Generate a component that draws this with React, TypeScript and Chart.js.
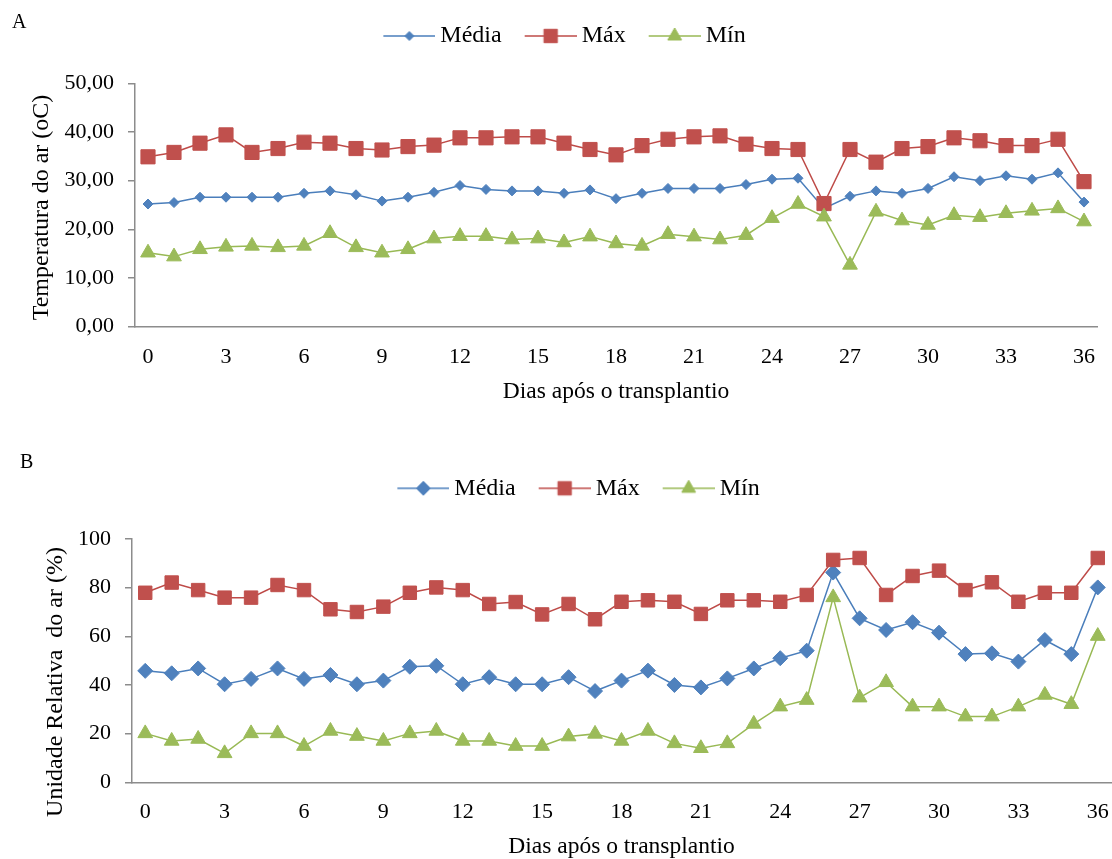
import React, { useEffect, useRef } from 'react';
import { Chart, registerables } from 'chart.js';

Chart.register(...registerables);

// ---------- data ----------
const days = ['0','1','2','3','4','5','6','7','8','9','10','11','12','13','14','15','16','17','18','19','20','21','22','23','24','25','26','27','28','29','30','31','32','33','34','35','36'];

const seriesNames = ['Média', 'Máx', 'Mín'];

const tempMedia = [25.2, 25.5, 26.6, 26.6, 26.6, 26.6, 27.4, 27.9, 27.1, 25.8, 26.6, 27.6, 29.0, 28.2, 27.9, 27.9, 27.4, 28.1, 26.3, 27.4, 28.4, 28.4, 28.4, 29.2, 30.3, 30.5, 24.3, 26.8, 27.9, 27.4, 28.4, 30.8, 30.0, 31.0, 30.3, 31.6, 25.6];
const tempMax = [34.9, 35.8, 37.7, 39.4, 35.8, 36.6, 37.9, 37.7, 36.6, 36.3, 37.0, 37.3, 38.8, 38.8, 39.0, 39.0, 37.7, 36.4, 35.3, 37.2, 38.5, 39.0, 39.2, 37.5, 36.6, 36.4, 25.3, 36.4, 33.8, 36.6, 37.0, 38.8, 38.2, 37.2, 37.2, 38.5, 29.8];
const tempMin = [15.2, 14.4, 15.9, 16.4, 16.6, 16.3, 16.6, 19.2, 16.3, 15.2, 15.9, 18.1, 18.6, 18.6, 17.9, 18.1, 17.3, 18.5, 17.1, 16.6, 19.0, 18.5, 17.9, 18.8, 22.3, 25.2, 22.6, 12.7, 23.6, 21.8, 20.9, 22.9, 22.5, 23.3, 23.8, 24.3, 21.6];

const urMedia = [45.8, 44.8, 46.8, 40.3, 42.5, 46.8, 42.5, 44.1, 40.3, 41.8, 47.5, 47.9, 40.3, 43.2, 40.3, 40.3, 43.2, 37.5, 41.8, 45.9, 40.0, 39.0, 42.7, 46.8, 51.0, 54.1, 86.2, 67.4, 62.6, 65.8, 61.5, 52.7, 53.0, 49.6, 58.5, 52.7, 80.1];
const urMax = [77.9, 82.1, 79.0, 75.9, 75.9, 81.1, 79.0, 71.1, 70.0, 72.2, 77.9, 80.1, 79.0, 73.3, 74.1, 69.0, 73.3, 67.0, 74.2, 74.8, 74.2, 69.2, 74.8, 74.8, 74.2, 77.0, 91.4, 92.2, 77.0, 84.8, 87.0, 79.0, 82.2, 74.2, 77.9, 77.9, 92.2];
const urMin = [20.1, 17.0, 17.8, 11.9, 20.1, 20.1, 14.9, 21.1, 19.0, 17.0, 20.1, 21.1, 17.0, 17.0, 14.9, 14.9, 18.8, 19.9, 17.0, 21.1, 16.0, 14.0, 16.0, 24.0, 31.1, 33.8, 76.0, 34.8, 41.1, 31.1, 31.1, 27.0, 27.0, 31.1, 35.9, 32.1, 60.1];

const tempTicks = [0, 10, 20, 30, 40, 50];
const urTicks = [0, 20, 40, 60, 80, 100];

const xTitle = 'Dias após o transplantio';
const tempTitle = 'Temperatura do ar (oC)';
const urTitle = 'Unidade Relativa  do ar (%)';

// ---------- styles ----------
const FONT = "'Liberation Serif', 'Times New Roman', serif";
const AXIS = '#8c8c8c';
const COLORS = [
  { line: '#4A7EBB', fill: '#4F81BD', style: 'rectRot' },
  { line: '#BE4B48', fill: '#C0504D', style: 'rect' },
  { line: '#98B954', fill: '#9BBB59', style: 'triangle' },
];

function drawMarker(ctx: CanvasRenderingContext2D, style: string, x: number, y: number, r: number) {
  ctx.beginPath();
  if (style === 'rect') {
    const s = Math.SQRT1_2 * r;
    ctx.rect(x - s, y - s, 2 * s, 2 * s);
  } else if (style === 'rectRot') {
    ctx.moveTo(x - r, y);
    ctx.lineTo(x, y - r);
    ctx.lineTo(x + r, y);
    ctx.lineTo(x, y + r);
    ctx.closePath();
  } else {
    ctx.moveTo(x, y - r);
    ctx.lineTo(x + 0.866 * r, y + 0.5 * r);
    ctx.lineTo(x - 0.866 * r, y + 0.5 * r);
    ctx.closePath();
  }
  ctx.fill();
  ctx.stroke();
}

function legendImage(idx: number, r: number) {
  const c = document.createElement('canvas');
  c.width = 58;
  c.height = 24;
  const ctx = c.getContext('2d')!;
  const col = COLORS[idx];
  ctx.strokeStyle = col.line;
  ctx.lineWidth = 1.5;
  ctx.beginPath();
  ctx.moveTo(6, 12);
  ctx.lineTo(58, 12);
  ctx.stroke();
  ctx.fillStyle = col.fill;
  ctx.strokeStyle = col.fill;
  ctx.lineWidth = 1;
  drawMarker(ctx, col.style, 32, 12, r);
  return c;
}

type PanelParams = {
  height: number;
  padL: number;
  padR: number;
  padT: number;
  legendH: number;
  yWidth: number;
  xHeight: number;
  xTitlePadB: number;
  yTitle: string;
  yTitleX: number;
  yTitleY: number;
  series: number[][];
  yTicks: number[];
  decimals: number;
  radii: number[];
  legendRadii: number[];
};

function buildConfig(p: PanelParams): any {
  const legendImgs = p.legendRadii.map((r, i) => legendImage(i, r));
  const legendHeightPlugin = {
    id: 'legendHeight',
    beforeLayout(chart: any) {
      const lg = chart.legend;
      if (lg && !lg.__patched) {
        const orig = lg.fit;
        lg.fit = function () {
          orig.call(this);
          this.height = p.legendH;
        };
        lg.__patched = true;
      }
    },
  };
  const yTitlePlugin = {
    id: 'yTitle',
    afterDraw(chart: any) {
      const ctx = chart.ctx;
      ctx.save();
      ctx.translate(p.yTitleX, p.yTitleY);
      ctx.rotate(-Math.PI / 2);
      ctx.font = `24px ${FONT}`;
      ctx.fillStyle = '#000';
      ctx.textAlign = 'center';
      ctx.textBaseline = 'middle';
      ctx.fillText(p.yTitle, 0, 0);
      ctx.restore();
    },
  };
  const yMin = p.yTicks[0];
  const yMax = p.yTicks[p.yTicks.length - 1];
  return {
    type: 'line',
    data: {
      labels: days,
      datasets: p.series.map((data, i) => ({
        label: seriesNames[i],
        data,
        borderColor: COLORS[i].line,
        backgroundColor: COLORS[i].fill,
        pointBackgroundColor: COLORS[i].fill,
        pointBorderColor: COLORS[i].fill,
        pointBorderWidth: 1,
        pointStyle: COLORS[i].style,
        pointRadius: p.radii[i],
        borderWidth: 1.5,
        tension: 0,
        fill: false,
        order: 3 - i,
      })),
    },
    options: {
      responsive: false,
      animation: false,
      devicePixelRatio: 1,
      layout: { autoPadding: false, padding: { left: p.padL, right: p.padR, top: p.padT, bottom: 0 } },
      plugins: {
        tooltip: { enabled: false },
        legend: {
          display: true,
          position: 'top',
          align: 'center',
          labels: {
            usePointStyle: true,
            pointStyleWidth: 44,
            padding: 24,
            color: '#000',
            font: { family: FONT, size: 24 },
            generateLabels: (chart: any) =>
              chart.data.datasets.map((ds: any, i: number) => ({
                text: ds.label,
                fillStyle: COLORS[i].fill,
                strokeStyle: COLORS[i].line,
                lineWidth: 0,
                hidden: false,
                datasetIndex: i,
                pointStyle: legendImgs[i],
                fontColor: '#000',
              })),
          },
        },
      },
      scales: {
        x: {
          type: 'category',
          offset: true,
          grid: { display: false, drawTicks: true, tickLength: 17 },
          border: { display: true, color: AXIS, width: 1.5 },
          ticks: {
            autoSkip: false,
            maxRotation: 0,
            minRotation: 0,
            padding: 0,
            color: '#000',
            font: { family: FONT, size: 22 },
            callback: (_v: any, i: number) => (i % 3 === 0 ? days[i] : ''),
          },
          title: {
            display: true,
            text: xTitle,
            color: '#000',
            font: { family: FONT, size: 23.5, lineHeight: 1 },
            padding: { top: 0, bottom: p.xTitlePadB },
          },
          afterFit: (s: any) => {
            s.height = p.xHeight;
            s.paddingLeft = 0;
            s.paddingRight = 0;
          },
        },
        y: {
          min: yMin,
          max: yMax,
          afterBuildTicks: (s: any) => {
            s.ticks = p.yTicks.map((v) => ({ value: v }));
          },
          grid: {
            display: true,
            drawOnChartArea: false,
            drawTicks: true,
            tickLength: 7,
            color: AXIS,
            lineWidth: 1.5,
          },
          border: { display: true, color: AXIS, width: 1.5 },
          ticks: {
            padding: 14,
            color: '#000',
            font: { family: FONT, size: 22 },
            callback: (v: any) => Number(v).toFixed(p.decimals).replace('.', ','),
          },
          title: { display: false },
          afterFit: (s: any) => {
            s.width = p.yWidth;
          },
        },
      },
    },
    plugins: [legendHeightPlugin, yTitlePlugin],
  };
}

const panelA: PanelParams = {
  height: 420,
  padL: 33,
  padR: 15,
  padT: 0,
  legendH: 83.3,
  yWidth: 102,
  xHeight: 93.3,
  xTitlePadB: 16.25,
  yTitle: tempTitle,
  yTitleX: 42,
  yTitleY: 207.5,
  series: [tempMedia, tempMax, tempMin],
  yTicks: tempTicks,
  decimals: 2,
  radii: [5, 10, 8.5],
  legendRadii: [4.5, 9.5, 8],
};

const panelB: PanelParams = {
  height: 429,
  padL: 47,
  padR: 1,
  padT: 22.3,
  legendH: 86.7,
  yWidth: 85,
  xHeight: 76.7,
  xTitlePadB: 0.55,
  yTitle: urTitle,
  yTitleX: 56,
  yTitleY: 252,
  series: [urMedia, urMax, urMin],
  yTicks: urTicks,
  decimals: 0,
  radii: [7.5, 9.5, 8.5],
  legendRadii: [7, 9.5, 8],
};

function Panel({ params, top }: { params: PanelParams; top: number }) {
  const ref = useRef<HTMLCanvasElement | null>(null);
  useEffect(() => {
    if (!ref.current) return;
    const chart = new Chart(ref.current, buildConfig(params));
    return () => chart.destroy();
  }, [params]);
  return (
    <canvas
      ref={ref}
      width={1112}
      height={params.height}
      style={{ position: 'absolute', left: 0, top, width: 1112, height: params.height }}
    />
  );
}

export default function App() {
  const labelStyle: React.CSSProperties = {
    position: 'absolute',
    fontFamily: FONT,
    fontSize: 20,
    lineHeight: '23px',
    color: '#000',
  };
  return (
    <div style={{ position: 'absolute', left: 0, top: 0, width: 1112, height: 859, background: '#fff', overflow: 'hidden' }}>
      <Panel params={panelA} top={0} />
      <Panel params={panelB} top={430} />
      <div style={{ ...labelStyle, left: 12, top: 10 }}>A</div>
      <div style={{ ...labelStyle, left: 20, top: 450 }}>B</div>
    </div>
  );
}
